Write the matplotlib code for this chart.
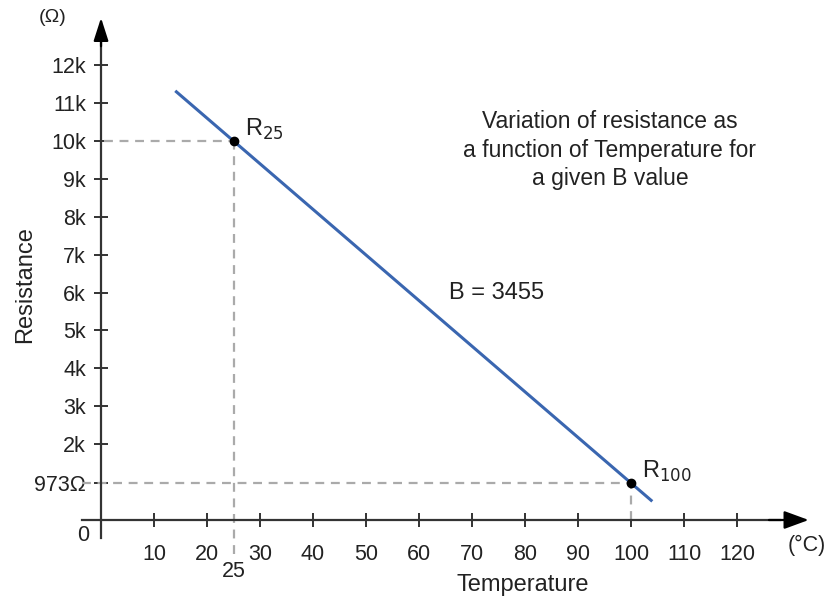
import numpy as np
import matplotlib.pyplot as plt

# Thermistor R-T line for a given B value
temps = [14, 25, 100, 104]
resist = [11324, 10000, 973, 492]
y_ticks = [973, 2000, 3000, 4000, 5000, 6000, 7000, 8000, 9000, 10000, 11000, 12000]
y_labels = ['973\u03a9', '2k', '3k', '4k', '5k', '6k', '7k', '8k', '9k', '10k', '11k', '12k']
x_ticks = [10, 20, 30, 40, 50, 60, 70, 80, 90, 100, 110, 120]
r25 = (25, 10000)
r100 = (100, 973)

plt.rcParams['font.family'] = ['Liberation Sans', 'DejaVu Sans']
dark = '#333333'
txt = '#222222'

fig = plt.figure(figsize=(8.32, 6.03), dpi=100)
ax = fig.add_axes([0, 0, 1, 1])
ax.set_xlim(-19.06, 137.9)
ax.set_ylim(-2190, 13720)

# axes through origin
for s in ['top', 'right']:
    ax.spines[s].set_visible(False)
ax.spines['left'].set_position(('data', 0))
ax.spines['bottom'].set_position(('data', 0))
ax.spines['left'].set_bounds(-470, 12800)
ax.spines['bottom'].set_bounds(-3.5, 128)
for s in ['left', 'bottom']:
    ax.spines[s].set_color(dark)
    ax.spines[s].set_linewidth(1.6)

ax.annotate('', xy=(133.5, 0), xytext=(126, 0),
            arrowprops=dict(arrowstyle='-|>,head_length=1.5,head_width=0.55',
                            color='black', lw=1.6, shrinkA=0, shrinkB=0))
ax.annotate('', xy=(0, 13250), xytext=(0, 12500),
            arrowprops=dict(arrowstyle='-|>,head_length=1.4,head_width=0.45',
                            color='black', lw=1.6, shrinkA=0, shrinkB=0))

ax.set_yticks(y_ticks)
ax.set_yticklabels(y_labels)
ax.set_xticks(x_ticks)
ax.set_xticklabels([str(t) for t in x_ticks])
ax.tick_params(axis='both', direction='inout', length=10, width=1.4,
               color=dark, labelsize=15.5, labelcolor=txt)
ax.tick_params(axis='y', pad=6)
ax.tick_params(axis='x', pad=12)

# dashed guides
ax.plot([0.5, r25[0]], [r25[1], r25[1]], ls=(0, (4, 3)), color='#aaaaaa', lw=1.6)
ax.plot([r25[0], r25[0]], [-900, r25[1]], ls=(0, (4, 3)), color='#aaaaaa', lw=1.6)
ax.plot([-3.5, r100[0]], [r100[1], r100[1]], ls=(0, (4, 3)), color='#aaaaaa', lw=1.6)
ax.plot([r100[0], r100[0]], [0, r100[1]], ls=(0, (4, 3)), color='#aaaaaa', lw=1.6)

ax.plot(temps, resist, color='#3a66b0', lw=2.2, solid_capstyle='butt')
ax.plot([r25[0], r100[0]], [r25[1], r100[1]], 'o', color='black', ms=6)

ax.text(27.2, 10150, 'R$_{25}$', fontsize=17, color=txt, va='baseline')
ax.text(102, 1120, 'R$_{100}$', fontsize=17, color=txt, va='baseline')
ax.text(25, -1370, '25', fontsize=15.5, ha='center', va='center', color=txt)
ax.text(-3.4, -400, '0', fontsize=15.5, ha='center', va='center', color=txt)
ax.text(-9.2, 13250, '(\u03a9)', fontsize=14, ha='center', va='center', color=txt)
ax.text(133.2, -680, '(\u00b0C)', fontsize=15.5, ha='center', va='center', color=txt)
ax.text(74.7, 6000, 'B = 3455', fontsize=17, ha='center', va='center', color=txt)
ax.text(96, 9760, 'Variation of resistance as\na function of Temperature for\na given B value',
        fontsize=16.5, ha='center', va='center', color=txt, linespacing=1.3)
ax.text(-14.3, 6200, 'Resistance', fontsize=17, rotation=90, ha='center', va='center',
        color=txt)
ax.text(79.5, -1720, 'Temperature', fontsize=17, ha='center', va='center', color=txt)

fig.savefig('out.png', dpi=100)
